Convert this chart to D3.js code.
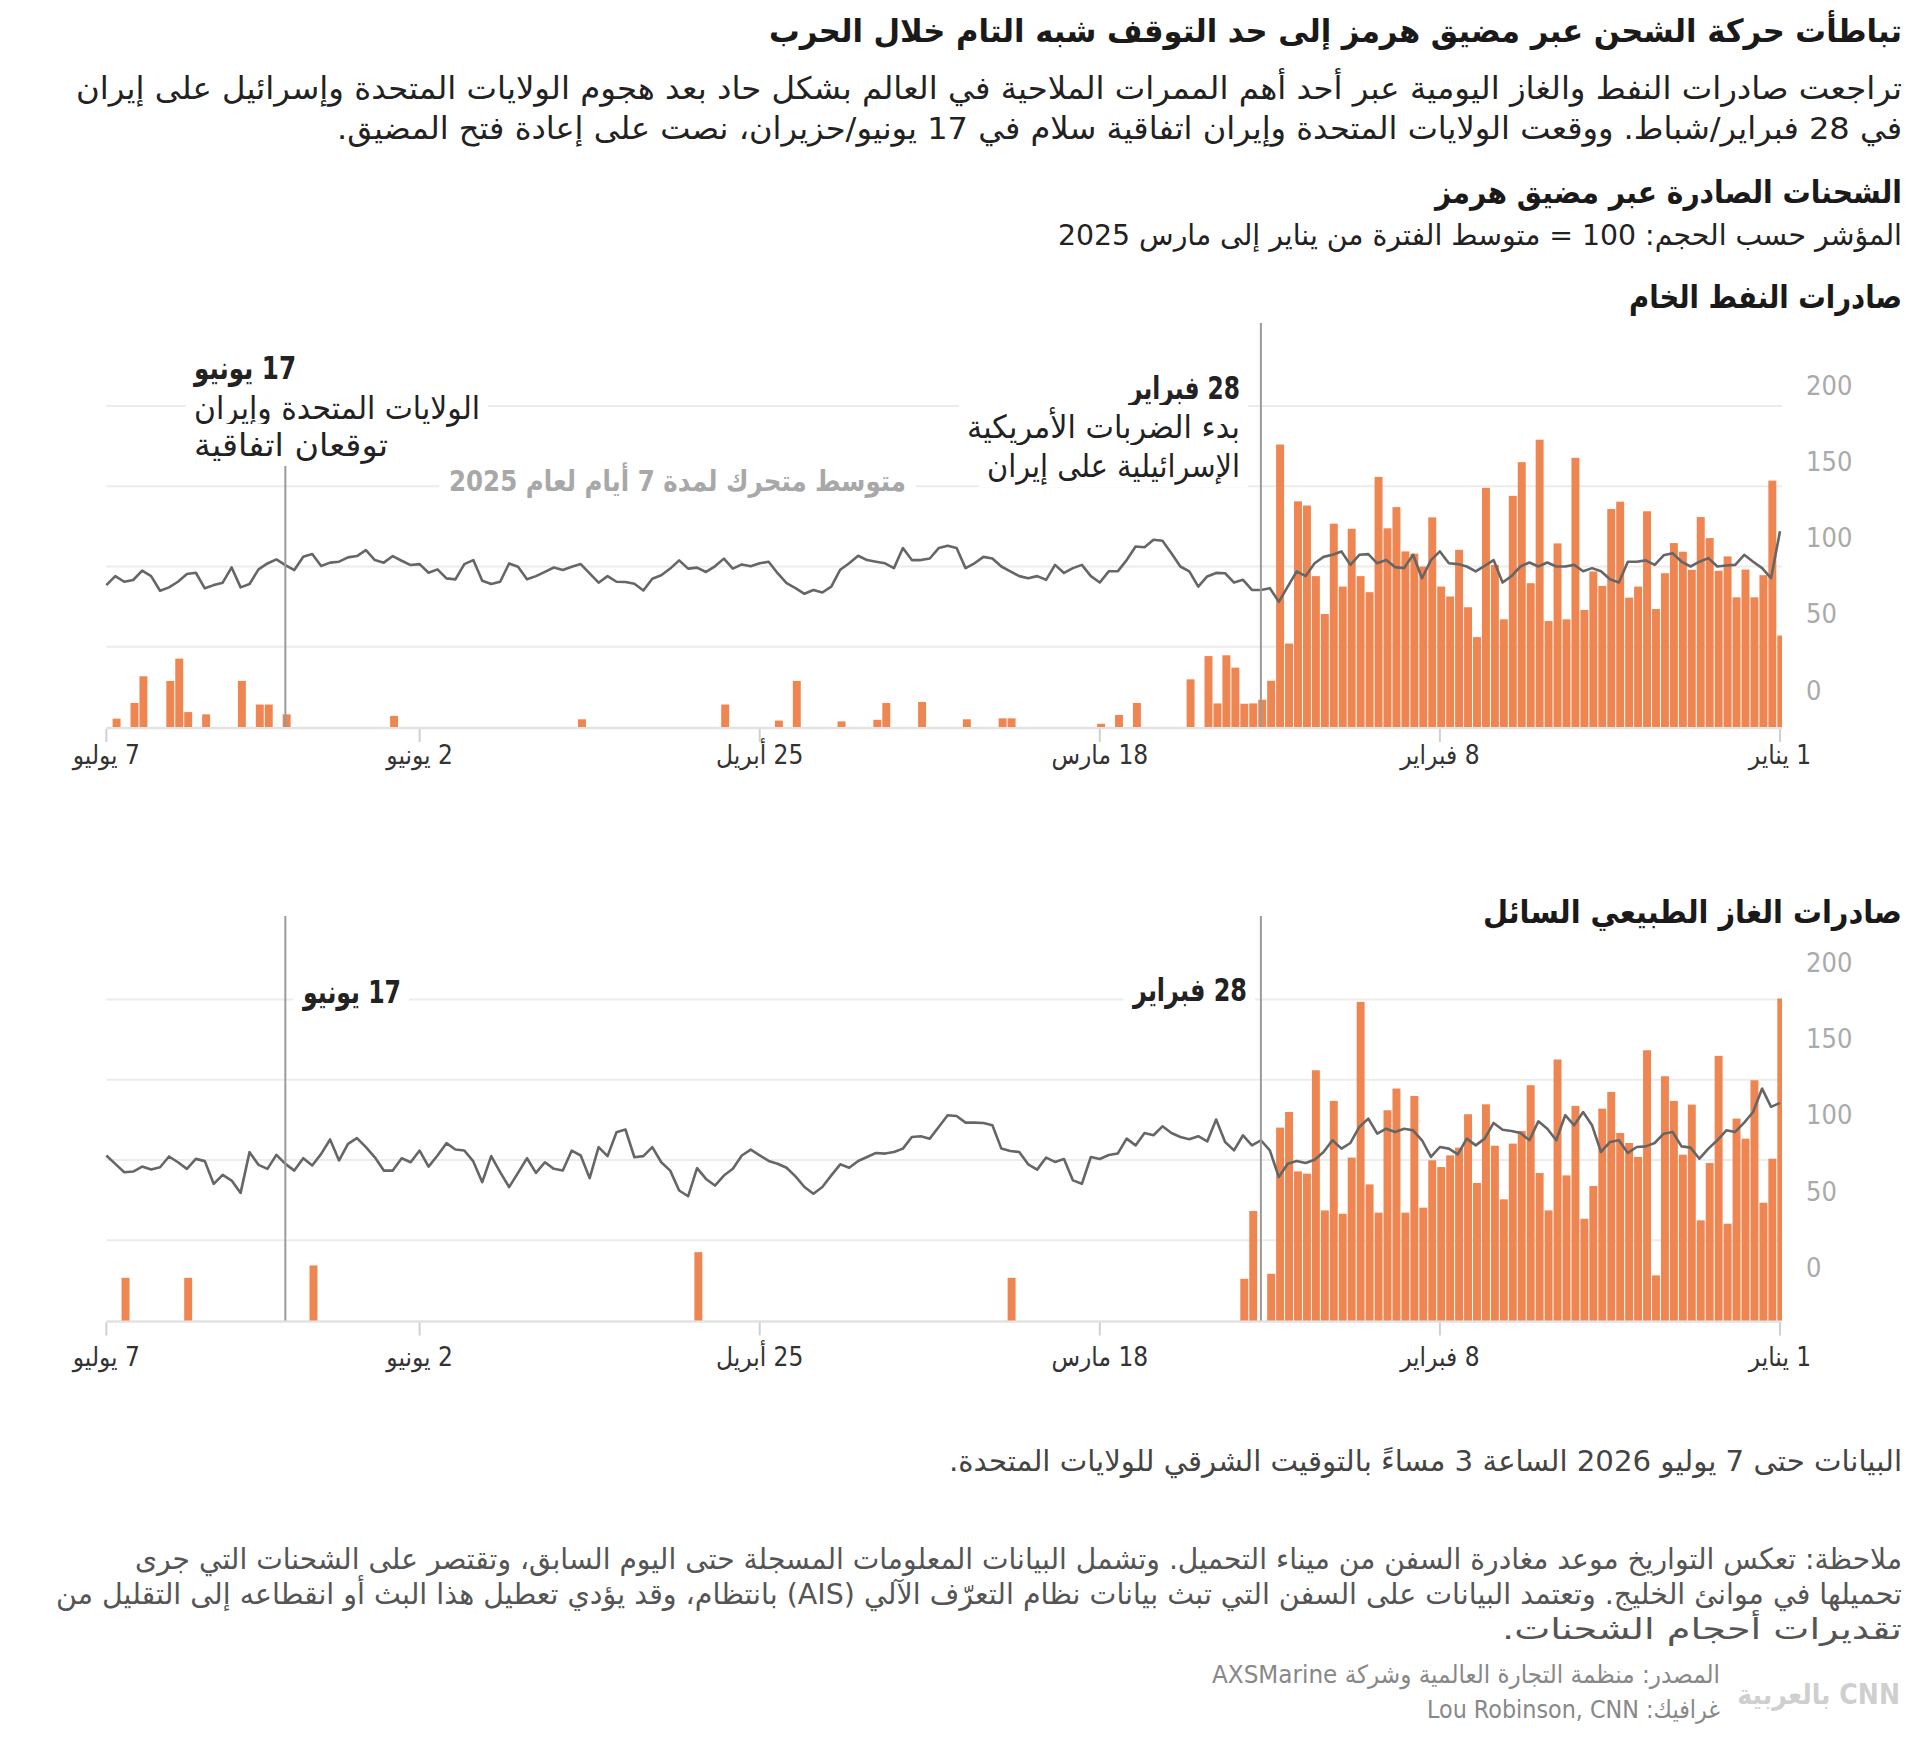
<!DOCTYPE html>
<html lang="ar">
<head>
<meta charset="utf-8">
<script src="https://cdn.jsdelivr.net/npm/d3@7"></script>
<style>
  body { margin: 0; background: #fff; }
  svg text { font-family: "DejaVu Sans Condensed", "DejaVu Sans", sans-serif; font-stretch: condensed; }
</style>
</head>
<body>
<svg id="chart" width="1920" height="1750"></svg>
<script>
// days start at 1 Jan 2026, one value per day, index 0 = 1 Jan
const startDate = new Date(Date.UTC(2026, 0, 1));
const endDate = new Date(Date.UTC(2026, 6, 7));

const oilBars = [57,153.5,94.6,80.8,98.1,80.8,106.3,97.3,117.7,130.8,
  97.9,109.2,114.6,95.8,73.5,134.4,87.5,80.6,140.4,135.8,
  87.9,96.9,72.9,167.7,67.1,114.4,66,179,89.6,165,
  144,67.1,101,149,56,74.6,110.4,81.3,87.5,130.6,
  100,108,109.4,137,123.8,155.8,84,94,123.5,87.5,
  126.7,70.4,94,138,140.6,52,176,28.8,
  17,14.7,14.5,37,44.7,14.7,44.2,0,29.7,0,
  0,0,0,0,15,0,7.5,0,2,0,
  0,0,0,0,0,0,0,0,5.4,5.4,
  0,0,0,4.8,0,0,0,0,15.6,0,
  0,0,15,4.5,0,0,0,3.5,0,0,
  0,0,28.7,0,4,0,0,0,0,0,
  14,0,0,0,0,0,0,0,0,0,
  0,0,0,0,0,0,4.8,0,0,0,
  0,0,0,0,0,0,0,0,0,0,
  0,0,0,0,0,0,0,6.9,0,0,
  0,0,0,0,0,0,0,0,0,7.9,
  0,14,14,0,28.7,0,0,0,7.9,0,
  9.3,42.6,28.7,0,0,31.6,15,0,5.2,0];

const oilAvg2025 = [121.9,92.7,99,103,107.3,101,100.6,100,105.2,103,
  100,103,108.3,107,101,103.8,103,103,90,92,
  97,99,97,101,100,100,102.5,100,102.5,100,
  94,90,104,100.4,97,100,101.5,102,109.4,104,
  92.7,107.3,99,99.6,104,102,107.7,107.3,101,109.4,
  107.3,106,102,94,97,87.5,78,86.5,85.4,85.4,
  91.7,90,95.8,96,93.8,87.5,97,100,108.3,116,
  116.7,112,112.5,104,97,97,90,94,101,99,
  96,101,91.7,94,92.7,94,97,100,105,106,
  102,99,111.5,113,111.5,105,104,104,111.5,99,
  102,103,104,106.7,102,98,87.5,83.8,85.4,83,
  86.5,89.6,95.8,103,102,100.1,101.3,98.7,104.9,100.1,
  96.6,99.3,98.7,103.8,98.7,94.5,92.4,85.1,89.3,90.3,
  90.5,94,89.9,95.7,101.5,99.9,97.8,99.4,96.7,94,
  92,99.9,101.9,90.5,89.1,91.1,104,101.5,92,92.6,
  98.2,96.1,101.5,100.9,103.6,106.5,102.4,104,110.2,106.5,
  105.7,103,102.4,100.3,107.8,106.1,97.8,100.9,104.4,101.9,
  98.2,89.1,87,99.4,89.9,88.4,86.4,96.1,95.3,90.5,
  87,84.9,94,97.4,91.6,90.5,94,88.4];

const lngBars = [200.6,100.8,73.4,149.7,113.3,125.8,60.3,164.9,98.1,62.4,
  134.5,103.3,136.8,152.2,28.1,168.4,101.9,110.6,116.8,142.4,
  132,83.8,63.4,133.7,90.4,162.6,68.6,91.9,146.6,118.1,
  110.2,75.5,108.9,134.7,85.7,128.5,107.7,102.9,95.6,99.8,
  70.3,139.9,67.2,144.5,131,67.2,84.8,198.5,101.5,66.5,
  136.8,68.6,155.9,91.5,92.9,129.9,120.2,29.1,
  0,68.2,26,0,0,0,0,0,0,0,
  0,0,0,0,0,0,0,0,0,0,
  0,0,0,0,0,0,0,0,26.6,0,
  0,0,0,0,0,0,0,0,0,0,
  0,0,0,0,0,0,0,0,0,0,
  0,0,0,0,0,0,0,0,0,0,
  0,0,0,42.6,0,0,0,0,0,0,
  0,0,0,0,0,0,0,0,0,0,
  0,0,0,0,0,0,0,0,0,0,
  0,0,0,0,0,0,0,0,0,0,
  0,0,0,0,0,0,34.3,0,0,0,
  0,0,0,0,0,0,0,0,0,0,
  26.6,0,0,0,0,0,0,26.6,0,0];

const lngAvg2025 = [135.6,133.1,144.5,129.9,123.3,117.5,118.5,112.3,107.1,100.8,
  107.7,108.5,117.5,116.4,110.6,108.5,108.1,104.4,112.3,111.2,
  105,121.6,129.9,121.6,127.9,112.3,119.5,124.1,112.3,116.8,
  118.1,118.9,123.1,113.3,109.1,113.3,103.5,107.1,108.1,101.9,
  112.3,118.5,119.5,117.5,119.5,116.4,125.8,120.6,110.6,107.1,
  112.3,105,100.2,98.1,99.4,97.7,89.4,106,
  112.3,109.1,115.4,106,111.2,125.2,111.6,114.8,112.9,114.3,
  116.8,121,115.4,116.8,109.1,113.3,104,103.1,100.6,101.9,
  85.2,87.3,100.6,98.8,101.5,94,97.3,105,105.6,107.1,
  121.6,123.1,123.3,123.3,127.4,127.9,120.6,113.3,114.8,114.3,
  107.1,105,104,104.4,101.9,99.4,95.2,97.3,90.4,83.2,
  79,83.2,89.8,95.2,97.7,99.4,102.9,
  106.5,102.8,94.5,90.3,84.1,88.2,94.9,77.4,81,93.4,
  98.6,108,102.4,101.7,119,117.3,102.4,108,88.7,102.8,
  105.9,93.4,94.5,98.6,92,101.1,92,83.1,92.4,102.4,
  86.2,99.1,105.9,106.5,110.5,102.8,95.9,105.9,98.6,101.1,
  93.4,93.4,101.7,108,113.6,110.1,99.7,112.8,103.8,96.6,
  101.1,93.4,97.6,103.2,94.5,97,104.9,79.5,87.2,90.7,
  85.1,99.3,100.7,94.5,98.6,102.2,95.5,94.1,95.9,92.8,
  92.4,97.6,102.8];

const yTicks = [0, 50, 100, 150, 200];
const xTickDates = ["2026-01-01", "2026-02-08", "2026-03-18", "2026-04-25", "2026-06-02", "2026-07-07"];
const xTickLabels = ["1 يناير", "8 فبراير", "18 مارس", "25 أبريل", "2 يونيو", "7 يوليو"];
const eventDates = ["2026-02-28", "2026-06-17"];

const parseDay = d3.utcParse("%Y-%m-%d");
const svg = d3.select("#chart");
svg.append("rect").attr("width", 1920).attr("height", 1750).attr("fill", "#fff");

const x = d3.scaleUtc().domain([startDate, endDate]).range([1780, 106.35]);
const dayW = x(startDate) - x(d3.utcDay.offset(startDate, 1));
const dayOf = i => d3.utcDay.offset(startDate, i);

svg.append("clipPath").attr("id", "plotClip")
  .append("rect").attr("x", 104).attr("y", 0).attr("width", 1782 - 104).attr("height", 1750);

// text helper: anchor "right" = right edge at x, "left" = left edge at x
function label(g, str, o) {
  const t = g.append("text")
    .attr("x", o.x).attr("y", o.y)
    .attr("dominant-baseline", "central")
    .attr("direction", "rtl")
    .style("direction", "rtl")
    .attr("text-anchor", o.anchor === "left" ? "end" : o.anchor === "middle" ? "middle" : "start")
    .attr("font-size", o.size)
    .attr("font-weight", o.bold ? 700 : 400)
    .attr("fill", o.fill || "#222")
    .text(str);
  if (o.len) t.attr("textLength", o.len).attr("lengthAdjust", "spacingAndGlyphs");
  return t;
}
function halo(g, t, pad) {
  const b = t.node().getBBox();
  g.insert("rect", () => t.node())
    .attr("x", b.x - pad).attr("y", b.y - 2).attr("width", b.width + pad * 2).attr("height", b.height + 4)
    .attr("fill", "#fff");
}

const panels = [
  {
    bars: oilBars, avg: oilAvg2025,
    y: d3.scaleLinear().domain([0, 200]).range([727, 406]),
    labelY: d3.scaleLinear().domain([0, 200]).range([690, 385]),
    tickLabelY: 755,
    eventTops: [323, 465]
  },
  {
    bars: lngBars, avg: lngAvg2025,
    y: d3.scaleLinear().domain([0, 200]).range([1320.5, 999.5]),
    labelY: d3.scaleLinear().domain([0, 200]).range([1267.4, 962.5]),
    tickLabelY: 1357,
    eventTops: [916, 916]
  }
];

panels.forEach(p => {
  const g = svg.append("g");
  const y = p.y;

  g.selectAll(".grid").data(yTicks.filter(v => v > 0)).enter().append("line")
    .attr("x1", x(endDate)).attr("x2", 1782)
    .attr("y1", d => y(d)).attr("y2", d => y(d))
    .attr("stroke", "#ececec").attr("stroke-width", 2);

  g.append("line").attr("x1", x(endDate)).attr("x2", 1782)
    .attr("y1", y(0) + 1).attr("y2", y(0) + 1)
    .attr("stroke", "#e2e2e2").attr("stroke-width", 2.5);

  g.selectAll(".tick").data(xTickDates).enter().append("line")
    .attr("x1", d => x(parseDay(d))).attr("x2", d => x(parseDay(d)))
    .attr("y1", y(0) + 2).attr("y2", y(0) + 15)
    .attr("stroke", "#d0d0d0").attr("stroke-width", 2);

  const plot = g.append("g").attr("clip-path", "url(#plotClip)");
  plot.selectAll("rect").data(p.bars).enter().append("rect")
    .attr("x", (d, i) => x(dayOf(i)) - 0.3 * dayW)
    .attr("width", dayW - 1)
    .attr("y", d => y(d))
    .attr("height", d => y(0) - y(d))
    .attr("fill", "#ef8651");

  eventDates.forEach((d, k) => {
    g.append("line")
      .attr("x1", x(parseDay(d))).attr("x2", x(parseDay(d)))
      .attr("y1", p.eventTops[k]).attr("y2", y(0))
      .attr("stroke", "#9a9a9a").attr("stroke-width", 2);
  });

  const line = d3.line()
    .x((d, i) => x(dayOf(i)))
    .y(d => y(d));
  plot.append("path").datum(p.avg)
    .attr("d", line)
    .attr("fill", "none").attr("stroke", "#666").attr("stroke-width", 2.6)
    .attr("stroke-linejoin", "round");

  g.selectAll(".ylab").data(yTicks).enter().append("text")
    .attr("x", 1806).attr("y", d => p.labelY(d))
    .attr("dominant-baseline", "central")
    .attr("font-size", 27).attr("fill", "#aaa")
    .text(d => d);

  xTickDates.forEach((d, k) => {
    label(g, xTickLabels[k], { x: x(parseDay(d)), y: p.tickLabelY, anchor: "middle", size: 26, fill: "#333" });
  });
});

// headings
const head = svg.append("g");
label(head, "تباطأت حركة الشحن عبر مضيق هرمز إلى حد التوقف شبه التام خلال الحرب", { x: 1902, y: 31, size: 32, bold: true, fill: "#1a1a1a", len: 1133 });
label(head, "تراجعت صادرات النفط والغاز اليومية عبر أحد أهم الممرات الملاحية في العالم بشكل حاد بعد هجوم الولايات المتحدة وإسرائيل على إيران", { x: 1902, y: 88, size: 31, len: 1826 });
label(head, "في 28 فبراير/شباط. ووقعت الولايات المتحدة وإيران اتفاقية سلام في 17 يونيو/حزيران، نصت على إعادة فتح المضيق.", { x: 1902, y: 128, size: 31, len: 1565 });
label(head, "الشحنات الصادرة عبر مضيق هرمز", { x: 1902, y: 192, size: 31, bold: true, fill: "#1a1a1a", len: 467 });
label(head, "المؤشر حسب الحجم: 100 = متوسط الفترة من يناير إلى مارس 2025", { x: 1902, y: 235, size: 29, len: 844 });
label(head, "صادرات النفط الخام", { x: 1902, y: 297, size: 32, bold: true, fill: "#1a1a1a", len: 273 });
label(head, "صادرات الغاز الطبيعي السائل", { x: 1902, y: 912, size: 32, bold: true, fill: "#1a1a1a", len: 419 });

// annotations
const ann = svg.append("g");
[
  ["28 فبراير", 1240, 388, true, 111, "right"],
  ["بدء الضربات الأمريكية", 1240, 427, false, 273, "right"],
  ["الإسرائيلية على إيران", 1240, 466, false, 253, "right"],
  ["17 يونيو", 194, 368, true, 102, "left"],
  ["الولايات المتحدة وإيران", 194, 408, false, 286, "left"],
  ["توقعان اتفاقية", 194, 445, false, 194, "left"],
  ["28 فبراير", 1247, 990, true, 114, "right"],
  ["17 يونيو", 303, 992, true, 98, "left"]
].forEach(a => {
  const t = label(ann, a[0], { x: a[1], y: a[2], size: 32, bold: a[3], fill: "#222", len: a[4], anchor: a[5] });
  halo(ann, t, 8);
});
const maLabel = label(ann, "متوسط متحرك لمدة 7 أيام لعام 2025", { x: 906, y: 481, size: 29, bold: true, fill: "#a8a8a8", len: 457 });
halo(ann, maLabel, 10);

// footer
const foot = svg.append("g");
label(foot, "البيانات حتى 7 يوليو 2026 الساعة 3 مساءً بالتوقيت الشرقي للولايات المتحدة.", { x: 1902, y: 1461, size: 29, fill: "#444", len: 953 });
label(foot, "ملاحظة: تعكس التواريخ موعد مغادرة السفن من ميناء التحميل. وتشمل البيانات المعلومات المسجلة حتى اليوم السابق، وتقتصر على الشحنات التي جرى", { x: 1902, y: 1559, size: 29, fill: "#555", len: 1767 });
label(foot, "تحميلها في موانئ الخليج. وتعتمد البيانات على السفن التي تبث بيانات نظام التعرّف الآلي (AIS) بانتظام، وقد يؤدي تعطيل هذا البث أو انقطاعه إلى التقليل من", { x: 1902, y: 1594, size: 29, fill: "#555", len: 1846 });
label(foot, "تقديرات أحجام الشحنات.", { x: 1902, y: 1629, size: 29, fill: "#555", len: 400 });
label(foot, "المصدر: منظمة التجارة العالمية وشركة AXSMarine", { x: 1720, y: 1674, size: 25, fill: "#888", len: 508 });
label(foot, "غرافيك: Lou Robinson, CNN", { x: 1720, y: 1709, size: 25, fill: "#888", len: 293 });

// logo
label(foot, "CNN بالعربية", { x: 1900, y: 1694, size: 28, bold: true, fill: "#cfcfcf" });
</script>
</body>
</html>
